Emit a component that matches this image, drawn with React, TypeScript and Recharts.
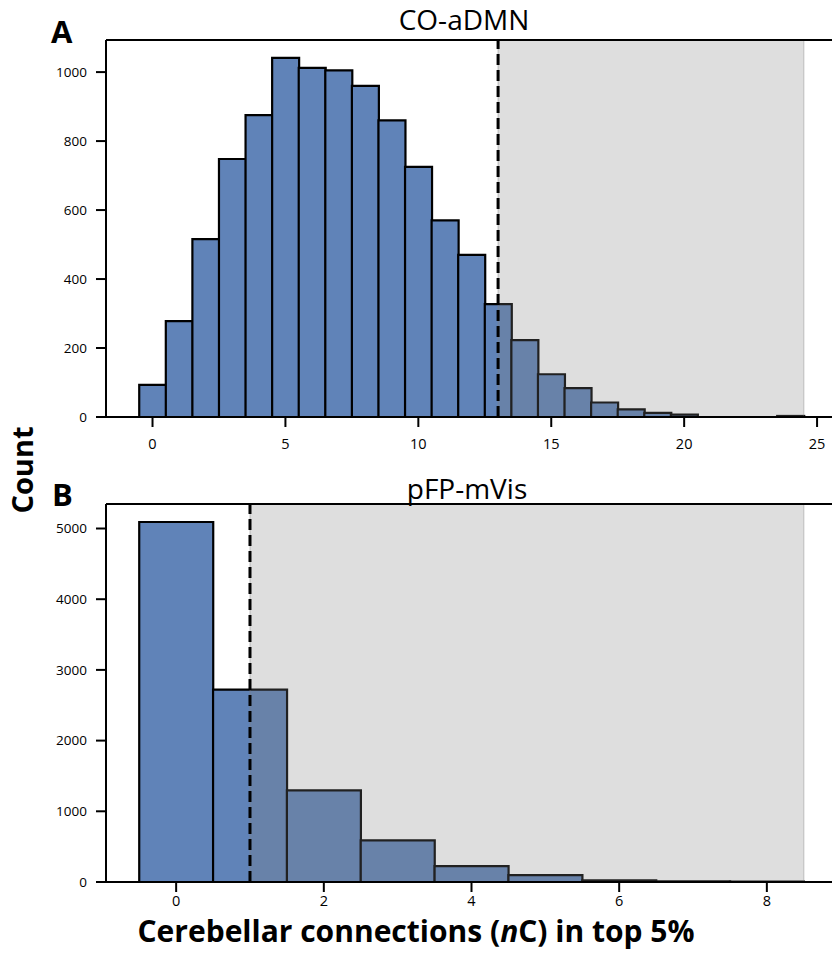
import React from 'react';
import {
  BarChart,
  Bar,
  XAxis,
  YAxis,
  ReferenceArea,
  ReferenceLine,
} from 'recharts';

// CO-aDMN histogram: counts per bin of nC (bins centred on integers)
const binsA = [0, 1, 2, 3, 4, 5, 6, 7, 8, 9, 10, 11, 12, 13, 14, 15, 16, 17, 18, 19, 20, 21, 22, 23, 24];
const countsA = [93, 278, 516, 748, 875, 1041, 1012, 1005, 960, 860, 725, 570, 470, 327, 223, 124, 84, 42, 22, 12, 7, 0, 0, 0, 3];
const ticksXA = [0, 5, 10, 15, 20, 25];
const ticksYA = [0, 200, 400, 600, 800, 1000];
const thresholdA = 13;
const spanEndA = 24.5;

// pFP-mVis histogram
const binsB = [0, 1, 2, 3, 4, 5, 6, 7, 8];
const countsB = [5092, 2720, 1296, 589, 225, 96, 25, 8, 6];
const ticksXB = [0, 2, 4, 6, 8];
const ticksYB = [0, 1000, 2000, 3000, 4000, 5000];
const thresholdB = 1;
const spanEndB = 8.5;

const BAR_FILL = '#6083b8';
const FONT = '"Open Sans", "DejaVu Sans", sans-serif';

// matplotlib-style autoscale margins (5% of the data range)
const xDomain = (bins: number[]): [number, number] => {
  const lo = bins[0] - 0.5;
  const hi = bins[bins.length - 1] + 0.5;
  const pad = (hi - lo) * 0.05;
  return [lo - pad, hi + pad];
};
const yDomain = (counts: number[]): [number, number] => [0, Math.max(...counts) * 1.05];

interface HistProps {
  bins: number[];
  counts: number[];
  ticksX: number[];
  ticksY: number[];
  threshold: number;
  spanEnd: number;
  height: number;
  marginTop: number;
  marginBottom: number;
  xTickMargin: number;
}

const Hist: React.FC<HistProps> = ({
  bins,
  counts,
  ticksX,
  ticksY,
  threshold,
  spanEnd,
  height,
  marginTop,
  marginBottom,
  xTickMargin,
}) => {
  const data = bins.map((b, i) => ({ bin: b, count: counts[i] }));
  const yd = yDomain(counts);
  return (
    <BarChart
      width={900}
      height={height}
      data={data}
      margin={{ top: marginTop, right: 63, left: 56, bottom: marginBottom }}
      barCategoryGap={0}
      barGap={0}
    >
      <XAxis
        dataKey='bin'
        type='number'
        domain={xDomain(bins)}
        ticks={ticksX}
        allowDataOverflow
        height={40}
        tickSize={10}
        tickMargin={xTickMargin}
        axisLine={{ stroke: '#000', strokeWidth: 2 }}
        tickLine={{ stroke: '#000', strokeWidth: 2 }}
        tick={{ fill: '#000', fontSize: 14.5, fontFamily: FONT }}
      />
      <YAxis
        type='number'
        domain={yd}
        ticks={ticksY}
        allowDataOverflow
        width={50}
        tickSize={10}
        tickMargin={9}
        axisLine={{ stroke: '#000', strokeWidth: 2 }}
        tickLine={{ stroke: '#000', strokeWidth: 2 }}
        tick={{ fill: '#000', fontSize: 13.5, fontFamily: FONT }}
      />
      <Bar
        dataKey='count'
        fill={BAR_FILL}
        stroke='#000'
        strokeWidth={2.2}
        isAnimationActive={false}
      />
      <ReferenceArea
        x1={threshold}
        x2={spanEnd}
        fill='#808080'
        fillOpacity={0.26}
        stroke='#808080'
        strokeOpacity={0.3}
        strokeWidth={1.5}
        zIndex={350}
      />
      <ReferenceLine
        x={threshold}
        stroke='#000'
        strokeWidth={3}
        strokeDasharray='11 5'
        zIndex={400}
      />
      {/* top spine */}
      <ReferenceLine y={yd[1]} stroke='#000' strokeWidth={2} zIndex={500} />
    </BarChart>
  );
};

const textBase: React.CSSProperties = {
  position: 'absolute',
  fontFamily: FONT,
  color: '#000',
  whiteSpace: 'nowrap',
  lineHeight: 1.4,
};

export default function App() {
  return (
    <div
      style={{
        position: 'fixed',
        left: 0,
        top: 0,
        width: 832,
        height: 957,
        overflow: 'hidden',
        background: '#fff',
      }}
    >
      <div style={{ position: 'absolute', left: 0, top: 0 }}>
        <Hist
          bins={binsA}
          counts={countsA}
          ticksX={ticksXA}
          ticksY={ticksYA}
          threshold={thresholdA}
          spanEnd={spanEndA}
          height={460}
          marginTop={40}
          marginBottom={3}
          xTickMargin={12}
        />
      </div>
      <div style={{ position: 'absolute', left: 0, top: 460 }}>
        <Hist
          bins={binsB}
          counts={countsB}
          ticksX={ticksXB}
          ticksY={ticksYB}
          threshold={thresholdB}
          spanEnd={spanEndB}
          height={470}
          marginTop={44}
          marginBottom={8}
          xTickMargin={4}
        />
      </div>

      <div style={{ ...textBase, left: 0, width: 928, top: 0, textAlign: 'center', fontSize: 28 }}>
        CO-aDMN
      </div>
      <div style={{ ...textBase, left: 0, width: 934, top: 469, textAlign: 'center', fontSize: 28 }}>
        pFP-mVis
      </div>
      <div style={{ ...textBase, left: 51, top: 10, fontSize: 31, fontWeight: 700 }}>A</div>
      <div style={{ ...textBase, left: 52, top: 473, fontSize: 31, fontWeight: 700 }}>B</div>
      <div
        style={{
          ...textBase,
          left: 22,
          top: 470,
          fontSize: 29,
          fontWeight: 700,
          transform: 'translate(-50%, -50%) rotate(-90deg)',
        }}
      >
        Count
      </div>
      <div
        style={{
          ...textBase,
          lineHeight: 0.8,
          left: 0,
          width: 832,
          top: 919,
          textAlign: 'center',
          fontSize: 30,
          fontWeight: 700,
        }}
      >
        Cerebellar connections (<i>n</i>C) in top 5%
      </div>
    </div>
  );
}
